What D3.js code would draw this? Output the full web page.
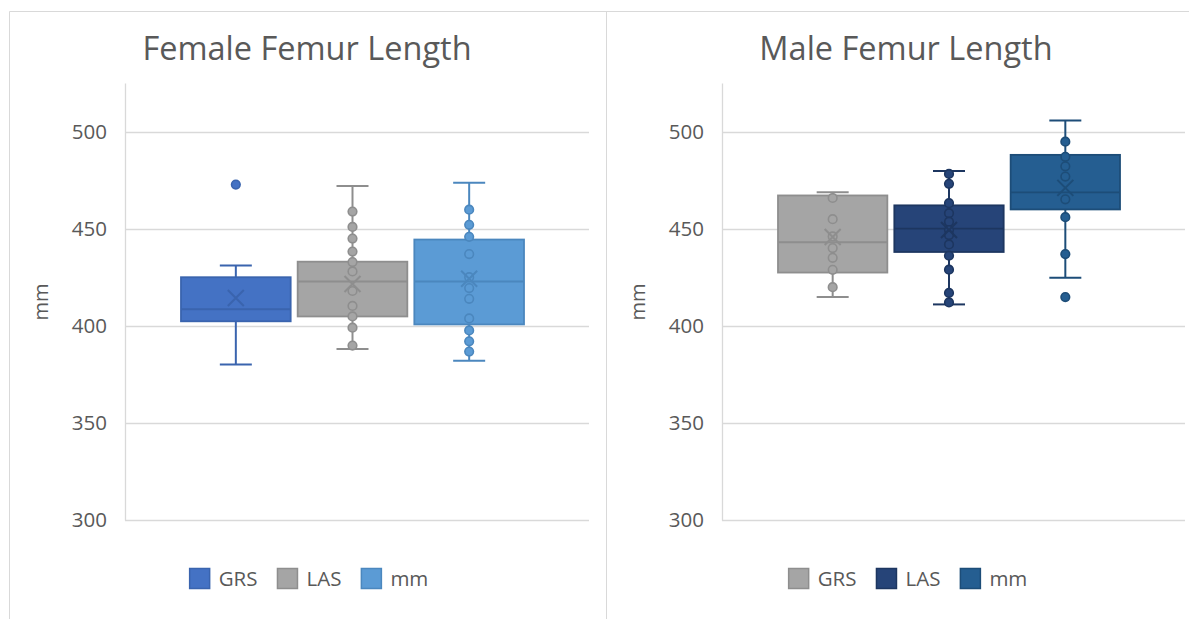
<!DOCTYPE html>
<html>
<head>
<meta charset="utf-8">
<script src="https://cdn.jsdelivr.net/npm/d3@7"></script>
<style>
  body { margin: 0; background: #fff; }
  svg { display: block; font-family: "Open Sans", sans-serif; }
</style>
</head>
<body>
<script>
// series names, same for both charts
const groups = ["GRS", "LAS", "mm"]
const yTicks = [300, 350, 400, 450, 500]

// Female chart, summary values per series (GRS, LAS, mm)
const femaleMin = [380, 388, 382]
const femaleQ1 = [402.3, 404.8, 400.7]
const femaleMedian = [408.5, 422.8, 422.8]
const femaleQ3 = [425, 433, 444.4]
const femaleMax = [431, 472, 473.7]
const femaleMean = [414.3, 421.5, 424.2]
const femaleGRSPoints = []
const femaleLASPoints = [458.8, 450.9, 444.9, 438.2, 432.8, 428, 417.9, 410.2, 404.8, 399, 389.8]
const femaleMmPoints = [459.8, 452, 445.8, 436.9, 425, 419.4, 413.9, 403.8, 397.6, 392, 386.7]
const femaleGRSOutliers = [472.7]
const femaleLASOutliers = []
const femaleMmOutliers = []

// Male chart
const maleMin = [414.8, 411, 424.7]
const maleQ1 = [427.4, 438, 459.9]
const maleMedian = [443, 450, 468.7]
const maleQ3 = [467.1, 462, 488]
const maleMax = [468.8, 479.7, 505.7]
const maleMean = [445.7, 449.3, 471]
const maleGRSPoints = [465.8, 454.9, 446, 440, 435, 428.8, 419.9]
const maleLASPoints = [478.2, 473.1, 463.1, 458, 453.6, 449.3, 446.7, 441.9, 436.1, 428.9, 416.9, 412]
const maleMmPoints = [494.8, 487, 482.1, 476.8, 465.1, 455.9, 436.9]
const maleGRSOutliers = []
const maleLASOutliers = []
const maleMmOutliers = [414.8]

const femaleColors = [["#4472C4", "#3A64AE"], ["#A5A5A5", "#8E8E8E"], ["#5B9BD5", "#4B87BE"]]
const maleColors = [["#A5A5A5", "#8E8E8E"], ["#264478", "#1D3660"], ["#255E91", "#1D4D78"]]

const textColor = "#595959"
const gridColor = "#D9D9D9"

let svg = d3.select("body").append("svg")
    .attr("width", 1189)
    .attr("height", 619)

// frame lines
svg.append("line").attr("x1", 9.5).attr("x2", 1189).attr("y1", 11.5).attr("y2", 11.5).attr("stroke", gridColor)
svg.append("line").attr("x1", 9.5).attr("x2", 9.5).attr("y1", 11.5).attr("y2", 619).attr("stroke", gridColor)
svg.append("line").attr("x1", 606.5).attr("x2", 606.5).attr("y1", 11.5).attr("y2", 619).attr("stroke", gridColor)

function makeSeries(min, q1, med, q3, max, mean, points, outliers){
    return groups.map((g, i) => ({
        name: g, min: min[i], q1: q1[i], median: med[i], q3: q3[i], max: max[i], mean: mean[i],
        points: points[i], outliers: outliers[i]
    }))
}

function drawChart(opts){
    let g = svg.append("g")
    let y = d3.scaleLinear().domain([300, 525]).range([520, 83])
    let x = d3.scaleBand().domain(groups)
        .range([opts.left + 56, opts.right - 65])
        .paddingInner(0.06)

    // gridlines
    g.append("g").selectAll("line").data(yTicks).join("line")
        .attr("x1", opts.left).attr("x2", opts.right)
        .attr("y1", d => Math.round(y(d)) + 0.5).attr("y2", d => Math.round(y(d)) + 0.5)
        .attr("stroke", gridColor).attr("stroke-width", 1.3)

    // axis
    let axis = g.append("g")
        .attr("transform", `translate(${opts.left},0)`)
        .call(d3.axisLeft(y).tickValues(yTicks).tickSize(0).tickPadding(18))
    axis.select(".domain").attr("stroke", gridColor).attr("stroke-width", 1.3)
    axis.selectAll("text").attr("fill", textColor).attr("font-size", 20.5)
        .attr("font-family", "Open Sans")

    g.append("text")
        .attr("transform", `translate(${opts.left - 84},302) rotate(-90)`)
        .attr("text-anchor", "middle").attr("dy", "0.35em")
        .attr("fill", textColor).attr("font-size", 20)
        .text("mm")

    g.append("text")
        .attr("x", opts.center).attr("y", 60)
        .attr("text-anchor", "middle")
        .attr("fill", textColor).attr("font-size", 32.5)
        .text(opts.title)

    let cap = 32
    opts.series.forEach((s, i) => {
        let fill = opts.colors[i][0]
        let dark = opts.colors[i][1]
        let cx = x(s.name) + x.bandwidth() / 2
        let box = g.append("g")

        // whiskers
        box.append("line").attr("x1", cx).attr("x2", cx).attr("y1", y(s.max)).attr("y2", y(s.q3))
            .attr("stroke", dark).attr("stroke-width", 2)
        box.append("line").attr("x1", cx).attr("x2", cx).attr("y1", y(s.q1)).attr("y2", y(s.min))
            .attr("stroke", dark).attr("stroke-width", 2)
        box.selectAll(".cap").data([s.min, s.max]).join("line")
            .attr("x1", cx - cap / 2).attr("x2", cx + cap / 2)
            .attr("y1", d => y(d)).attr("y2", d => y(d))
            .attr("stroke", dark).attr("stroke-width", 2)

        box.append("rect")
            .attr("x", x(s.name)).attr("width", x.bandwidth())
            .attr("y", y(s.q3)).attr("height", y(s.q1) - y(s.q3))
            .attr("fill", fill).attr("stroke", dark).attr("stroke-width", 1.8)
        box.append("line")
            .attr("x1", x(s.name)).attr("x2", x(s.name) + x.bandwidth())
            .attr("y1", y(s.median)).attr("y2", y(s.median))
            .attr("stroke", dark).attr("stroke-width", 1.8)

        box.selectAll(".pt").data(s.points.concat(s.outliers)).join("circle")
            .attr("cx", cx).attr("cy", d => y(d)).attr("r", 4.3)
            .attr("fill", fill).attr("stroke", dark).attr("stroke-width", 1.6)

        // mean marker
        let ym = y(s.mean), h = 8
        box.append("path")
            .attr("d", `M${cx - h},${ym - h}L${cx + h},${ym + h}M${cx - h},${ym + h}L${cx + h},${ym - h}`)
            .attr("stroke", dark).attr("stroke-width", 2).attr("fill", "none")
    })

    // legend
    let leg = g.append("g")
    let items = leg.selectAll("g").data(opts.series).join("g")
    items.append("rect")
        .attr("width", 20).attr("height", 20).attr("y", -10)
        .attr("fill", (d, i) => opts.colors[i][0])
        .attr("stroke", (d, i) => opts.colors[i][1]).attr("stroke-width", 1.5)
    items.append("text")
        .attr("x", 29).attr("dy", "0.35em")
        .attr("fill", textColor).attr("font-size", 20.5)
        .text(d => d.name)
    let pos = 0
    let gap = 20
    items.each(function(d){
        d3.select(this).attr("transform", `translate(${pos},578.5)`)
        pos += 29 + this.querySelector("text").getComputedTextLength() + gap
    })
    let total = pos - gap
    leg.attr("transform", `translate(${opts.center - total / 2 + 2},0)`)
}

drawChart({
    title: "Female Femur Length",
    left: 125, right: 589, center: 307,
    colors: femaleColors,
    series: makeSeries(femaleMin, femaleQ1, femaleMedian, femaleQ3, femaleMax, femaleMean,
        [femaleGRSPoints, femaleLASPoints, femaleMmPoints],
        [femaleGRSOutliers, femaleLASOutliers, femaleMmOutliers])
})

drawChart({
    title: "Male Femur Length",
    left: 722, right: 1185, center: 906,
    colors: maleColors,
    series: makeSeries(maleMin, maleQ1, maleMedian, maleQ3, maleMax, maleMean,
        [maleGRSPoints, maleLASPoints, maleMmPoints],
        [maleGRSOutliers, maleLASOutliers, maleMmOutliers])
})
</script>
</body>
</html>
